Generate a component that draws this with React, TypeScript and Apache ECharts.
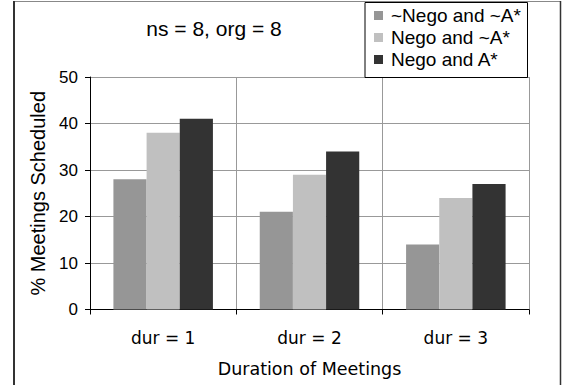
import React, { useEffect, useRef } from "react";
import * as echarts from "echarts";

const categories = ["dur = 1", "dur = 2", "dur = 3"];
const seriesNames = ["~Nego and ~A*", "Nego and ~A*", "Nego and A*"];
const noNegoNoA = [28, 21, 14];
const negoNoA = [38, 29, 24];
const negoA = [41, 34, 27];
const yTicks = [0, 10, 20, 30, 40, 50];
const titleText = "ns = 8, org = 8";
const xTitle = "Duration of Meetings";
const yTitle = "% Meetings Scheduled";

const colors = ["#969696", "#c0c0c0", "#333333"];
const ARIAL = "'Liberation Sans', Arial, sans-serif";
const WIDE = "'DejaVu Sans', sans-serif";

export default function App() {
  const ref = useRef<HTMLDivElement>(null);
  useEffect(() => {
    document.body.style.margin = "0";
    const chart = echarts.init(ref.current!, null, { renderer: "svg" });
    const data = [noNegoNoA, negoNoA, negoA];
    chart.setOption({
      animation: false,
      backgroundColor: "#ffffff",
      textStyle: { fontFamily: ARIAL },
      title: {
        text: titleText,
        left: 214,
        top: 18,
        textAlign: "center",
        padding: 0,
        textStyle: { fontFamily: ARIAL, fontSize: 21, fontWeight: "normal", color: "#000" },
      },
      legend: {
        orient: "vertical",
        left: 374,
        top: 6,
        padding: 0,
        itemWidth: 9,
        itemHeight: 9,
        itemGap: 3,
        icon: "rect",
        data: seriesNames,
        textStyle: { fontFamily: ARIAL, fontSize: 19, lineHeight: 19, color: "#000", padding: [0, 0, 0, 3] },
      },
      graphic: [
        {
          type: "line",
          shape: { x1: 13, y1: 1.5, x2: 561, y2: 1.5 },
          style: { stroke: "#888", lineWidth: 1 },
          z: 100,
        },
        {
          type: "line",
          shape: { x1: 14, y1: 1, x2: 14, y2: 385 },
          style: { stroke: "#333", lineWidth: 2 },
          z: 100,
        },
        {
          type: "line",
          shape: { x1: 560.5, y1: 1, x2: 560.5, y2: 385 },
          style: { stroke: "#333", lineWidth: 1.5 },
          z: 100,
        },
        {
          type: "rect",
          shape: { x: 365, y: 2.5, width: 162.5, height: 75 },
          style: { fill: "none", stroke: "#000", lineWidth: 1 },
          z: 100,
        },
      ],
      grid: { left: 90, top: 77, right: 33, bottom: 75.5, containLabel: false },
      xAxis: {
        type: "category",
        data: categories,
        name: xTitle,
        nameLocation: "middle",
        nameGap: 50,
        nameTextStyle: { fontFamily: WIDE, fontSize: 17.5, color: "#000" },
        axisLine: { lineStyle: { color: "#000", width: 1 } },
        axisTick: { show: true, length: 5, lineStyle: { color: "#000" } },
        axisLabel: { fontFamily: WIDE, fontSize: 17, color: "#000", margin: 20 },
        splitLine: { show: true, lineStyle: { color: "#999", width: 1 } },
      },
      yAxis: {
        type: "value",
        min: 0,
        max: 50,
        interval: 10,
        name: yTitle,
        nameLocation: "middle",
        nameGap: 38,
        nameTextStyle: { fontFamily: ARIAL, fontSize: 20, color: "#000" },
        axisLine: { show: true, lineStyle: { color: "#000", width: 1 } },
        axisTick: { show: true, length: 5, lineStyle: { color: "#000" } },
        axisLabel: {
          fontFamily: ARIAL,
          fontSize: 17,
          color: "#000",
          margin: 12,
          formatter: (v: number) => (yTicks.includes(v) ? String(v) : ""),
        },
        splitLine: { show: true, lineStyle: { color: "#999", width: 1 } },
      },
      series: seriesNames.map((name, i) => ({
        name,
        type: "bar",
        data: data[i],
        barGap: "0%",
        barCategoryGap: "32%",
        itemStyle: { color: colors[i] },
      })),
    });
    return () => chart.dispose();
  }, []);
  return <div ref={ref} style={{ width: 562, height: 385 }} />;
}
